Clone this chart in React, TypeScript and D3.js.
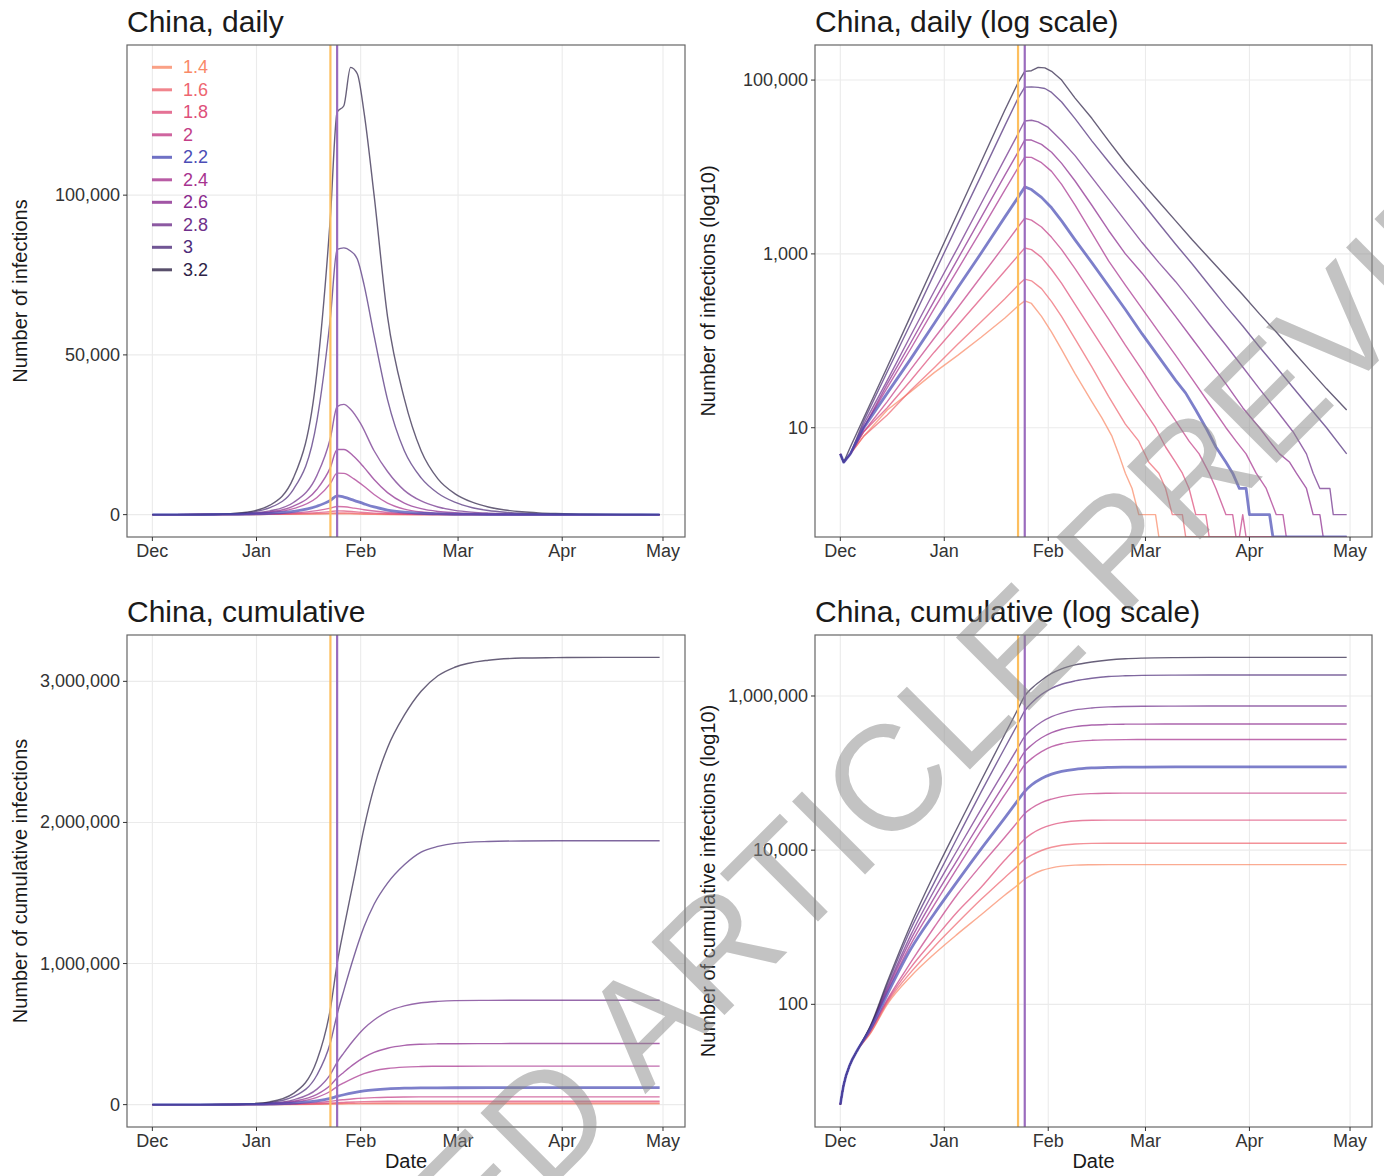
import React from "react";
import * as d3 from "d3";

// ---------------- DATA ----------------
const R_LABELS = ["1.4", "1.6", "1.8", "2", "2.2", "2.4", "2.6", "2.8", "3", "3.2"];
const R_COLORS = ["#F98A68", "#EE6670", "#DE4F7A", "#C33E87", "#4B4DB6", "#A7338F", "#8A2A8E", "#6F2F8B", "#4E2C7A", "#2E2346"];
const HIGHLIGHT = "2.2";

// day index counted from 2019-12-01
const MONTH_TICKS = ["2019-12-01", "2020-01-01", "2020-02-01", "2020-03-01", "2020-04-01", "2020-05-01"];
const EVENT_DATES = ["2020-01-23", "2020-01-25"];
const EVENT_COLORS = ["#FDBF5F", "#9A6BBE"];

// daily infections: [day, count]
const daily_1_4 = [[0,5],[1,4],[3,5],[7,8],[14,16],[21,26],[28,43],[35,68],[42,110],[49,182],[53,251],[55,288],[57,269],[60,191],[63,126],[66,79],[70,42],[75,20],[78,13],[81,8],[83,5],[85,3],[87,2],[89,1],[94,1],[95,0],[151,0]];
const daily_1_6 = [[0,5],[1,4],[3,5],[7,8],[14,14],[21,27],[28,49],[35,91],[42,166],[49,302],[53,437],[55,513],[57,490],[60,398],[63,282],[66,190],[70,105],[75,50],[80,23],[85,11],[89,7],[92,4],[95,3],[97,2],[99,1],[102,1],[103,0],[151,0]];
const daily_1_8 = [[0,5],[1,4],[3,5],[7,9],[14,17],[21,35],[28,74],[35,151],[42,309],[49,631],[53,955],[55,1170],[57,1120],[60,912],[63,661],[66,457],[70,263],[75,132],[80,66],[85,33],[90,17],[94,10],[97,6],[100,4],[102,3],[104,2],[106,1],[109,1],[110,0],[151,0]];
const daily_2_0 = [[0,5],[1,4],[3,5],[7,9],[14,20],[21,47],[28,107],[35,240],[42,550],[49,1260],[53,2040],[55,2570],[57,2450],[60,2040],[63,1550],[66,1120],[70,676],[75,347],[80,178],[85,89],[90,46],[95,23],[100,12],[104,7],[107,5],[110,3],[112,2],[115,1],[117,1],[118,0],[119,0],[120,1],[121,0],[151,0]];
const daily_2_2 = [[0,5],[1,4],[3,5],[7,10],[14,25],[21,62],[28,158],[35,407],[42,1023],[49,2630],[53,4470],[55,5900],[57,5500],[60,4470],[63,3390],[66,2400],[70,1450],[75,794],[80,427],[85,229],[90,120],[95,65],[100,35],[103,25],[106,16],[109,10],[112,6],[115,4],[117,3],[119,2],[121,2],[122,1],[128,1],[129,0],[151,0]];
const daily_2_4 = [[0,5],[1,4],[3,5],[7,10],[14,29],[21,81],[28,234],[35,661],[42,1862],[49,5370],[53,9770],[55,13000],[57,12900],[60,11200],[63,8900],[66,6300],[70,3630],[75,1740],[80,830],[85,437],[90,234],[95,126],[100,68],[105,36],[110,19],[115,10],[118,7],[121,5],[124,3],[127,2],[130,1],[132,1],[133,0],[151,0]];
const daily_2_6 = [[0,5],[1,4],[3,5],[7,10],[14,32],[21,95],[28,288],[35,871],[42,2630],[49,7943],[53,14800],[55,20400],[57,20400],[60,18200],[63,14800],[66,11000],[70,6900],[75,3630],[80,1860],[85,1000],[90,600],[95,339],[100,190],[105,105],[110,58],[115,32],[120,17],[125,10],[128,7],[131,5],[134,4],[136,3],[139,2],[141,1],[143,1],[144,0],[151,0]];
const daily_2_8 = [[0,5],[1,4],[3,5],[7,11],[14,35],[21,115],[28,372],[35,1175],[42,3802],[49,12300],[53,24000],[55,33800],[57,34500],[59,33000],[62,28500],[66,20000],[70,13500],[75,7600],[80,4270],[85,2400],[90,1350],[95,794],[100,479],[105,275],[110,155],[115,89],[120,50],[125,28],[130,16],[135,9],[139,5],[141,3],[143,2],[146,2],[147,1],[151,1]];
const daily_3_0 = [[0,5],[1,4],[3,5],[7,12],[14,44],[21,158],[28,589],[35,2188],[42,7943],[49,29500],[53,61700],[55,83000],[57,83500],[59,82500],[61,80000],[63,72000],[66,56000],[70,36000],[75,20000],[80,11500],[85,6700],[90,3900],[95,2240],[100,1290],[105,760],[110,436],[115,251],[120,148],[125,85],[130,50],[135,29],[140,17],[145,10],[151,5]];
const daily_3_2 = [[0,5],[1,4],[3,6],[7,13],[14,50],[21,195],[28,759],[35,2950],[42,11500],[49,44700],[53,93300],[55,126000],[57,128000],[59,140000],[61,138000],[63,126000],[66,100000],[70,62000],[75,36300],[80,20000],[85,11200],[90,6600],[95,3980],[100,2400],[105,1445],[110,891],[115,550],[120,339],[125,204],[130,126],[135,76],[140,46],[145,28],[151,16]];

// cumulative infections on a shared day grid
const CUM_DAYS = [0,1,3,5,9,14,21,28,35,42,49,53,55,57,60,63,66,70,75,80,85,90,100,110,120,135,151];
const cum_1_4 = [5,9,17,25,42,100,230,450,820,1450,2600,3550,4200,4750,5450,5900,6200,6400,6470,6500,6500,6500,6500,6500,6500,6500,6500];
const cum_1_6 = [5,9,17,25,43,105,260,560,1150,2300,4400,6300,7600,8600,9900,10900,11600,12000,12250,12300,12300,12300,12300,12300,12300,12300,12300];
const cum_1_8 = [5,9,17,25,45,110,300,700,1600,3300,7400,11300,14000,16300,19200,21300,22800,23900,24400,24500,24500,24500,24500,24500,24500,24500,24500];
const cum_2_0 = [5,9,17,25,46,115,350,1000,2700,6400,14600,23600,30000,35000,41500,46000,49500,52500,54200,54800,55000,55000,55000,55000,55000,55000,55000];
const cum_2_2 = [5,9,17,25,48,135,520,1500,4000,10400,26000,44500,58000,70000,85000,97000,105000,112000,116500,118500,119300,119700,120000,120000,120000,120000,120000];
const cum_2_4 = [5,9,17,25,49,145,600,1950,6000,18000,52000,95000,128000,154000,190000,220000,240000,256000,266000,270000,272000,272500,273000,273000,273000,273000,273000];
const cum_2_6 = [5,9,17,25,50,155,690,2400,7600,24000,73000,138000,190000,230000,287000,335000,370000,400000,420000,428000,431000,432000,432500,433000,433000,433000,433000];
const cum_2_8 = [5,9,17,25,51,165,790,3000,10200,34000,110000,215000,300000,367000,460000,540000,600000,660000,700000,722000,732000,737000,739000,740000,740000,740000,740000];
const cum_3_0 = [5,9,17,25,52,180,940,3800,14800,57000,210000,440000,640000,810000,1050000,1260000,1420000,1570000,1700000,1790000,1830000,1852000,1865000,1869000,1870000,1870000,1870000];
const cum_3_2 = [5,9,17,25,53,195,1080,4900,20000,80000,314000,680000,1000000,1250000,1600000,1960000,2250000,2530000,2760000,2930000,3040000,3100000,3150000,3165000,3168000,3170000,3170000];

const DAILY_SERIES = [daily_1_4, daily_1_6, daily_1_8, daily_2_0, daily_2_2, daily_2_4, daily_2_6, daily_2_8, daily_3_0, daily_3_2];
const CUM_SERIES = [cum_1_4, cum_1_6, cum_1_8, cum_2_0, cum_2_2, cum_2_4, cum_2_6, cum_2_8, cum_3_0, cum_3_2];

const DAILY_LIN_TICKS = [0, 50000, 100000];
const DAILY_LOG_TICKS = [10, 1000, 100000];
const CUM_LIN_TICKS = [0, 1000000, 2000000, 3000000];
const CUM_LOG_TICKS = [100, 10000, 1000000];

// ---------------- LAYOUT ----------------
const W = 1384;
const H = 1176;
const FONT = "'Liberation Sans', Arial, Helvetica, sans-serif";
const DAY_MS = 86400000;
const START = Date.UTC(2019, 11, 1);
const dayToDate = (d: number) => new Date(START + d * DAY_MS);

type Box = { x0: number; x1: number; y0: number; y1: number };
type Pt = [number, number];

const toPoints = (arr: number[][]): Pt[] => arr.map((p) => [p[0], p[1]] as Pt);
const cumPoints = (vals: number[]): Pt[] => vals.map((v, i) => [CUM_DAYS[i], v] as Pt);

function Panel(props: {
  box: Box;
  title: string;
  yTitle: string;
  xTitle?: string;
  log: boolean;
  series: Pt[][];
  yTicks: number[];
  legend?: boolean;
  id: string;
}) {
  const { box, title, yTitle, xTitle, log, series, yTicks, legend, id } = props;
  const allDays = series.flatMap((s) => s.map((p) => p[0]));
  const dMin = d3.min(allDays) as number;
  const dMax = d3.max(allDays) as number;
  const dPad = (dMax - dMin) * 0.05;
  const x = d3.scaleUtc().domain([dayToDate(dMin - dPad), dayToDate(dMax + dPad)]).range([box.x0, box.x1]);

  const vals = series.flatMap((s) => s.map((p) => p[1]));
  let y: any;
  if (log) {
    const pos = vals.filter((v) => v > 0);
    const lo = Math.log10(d3.min(pos) as number);
    const hi = Math.log10(d3.max(pos) as number);
    const pad = (hi - lo) * 0.05;
    y = d3.scaleLog().domain([Math.pow(10, lo - pad), Math.pow(10, hi + pad)]).range([box.y1, box.y0]);
  } else {
    const lo = Math.min(0, d3.min(vals) as number);
    const hi = d3.max(vals) as number;
    const pad = (hi - lo) * 0.05;
    y = d3.scaleLinear().domain([lo - pad, hi + pad]).range([box.y1, box.y0]);
  }
  const yPos = (v: number) => (log && v <= 0 ? box.y1 : y(v));

  const line = d3
    .line<Pt>()
    .x((p) => x(dayToDate(p[0])))
    .y((p) => yPos(p[1]))
    .curve(log && !id.startsWith("cum") ? d3.curveLinear : d3.curveMonotoneX);

  const order = R_LABELS.map((_, i) => i).filter((i) => R_LABELS[i] !== HIGHLIGHT);
  order.push(R_LABELS.indexOf(HIGHLIGHT));

  const monthDates = MONTH_TICKS.map((s) => new Date(s + "T00:00:00Z"));
  const fmtMonth = d3.utcFormat("%b");
  const fmtNum = d3.format(",");
  const cx = (box.x0 + box.x1) / 2;
  const cy = (box.y0 + box.y1) / 2;

  return (
    <g>
      <defs>
        <clipPath id={`clip-${id}`}>
          <rect x={box.x0} y={box.y0} width={box.x1 - box.x0} height={box.y1 - box.y0} />
        </clipPath>
      </defs>
      <rect x={box.x0} y={box.y0} width={box.x1 - box.x0} height={box.y1 - box.y0} fill="#fff" />
      {monthDates.map((d, i) => (
        <line key={"gx" + i} x1={x(d)} x2={x(d)} y1={box.y0} y2={box.y1} stroke="#EBEBEB" strokeWidth={1.1} />
      ))}
      {yTicks.map((t, i) => (
        <line key={"gy" + i} x1={box.x0} x2={box.x1} y1={y(t)} y2={y(t)} stroke="#EBEBEB" strokeWidth={1.1} />
      ))}
      <g clipPath={`url(#clip-${id})`}>
        {order.map((i) => (
          <path
            key={"s" + i}
            d={line(series[i]) || ""}
            fill="none"
            stroke={R_COLORS[i]}
            strokeOpacity={0.72}
            strokeWidth={R_LABELS[i] === HIGHLIGHT ? 2.8 : 1.4}
            strokeLinejoin="round"
          />
        ))}
        {EVENT_DATES.map((s, i) => {
          const xx = x(new Date(s + "T00:00:00Z"));
          return <line key={"ev" + i} x1={xx} x2={xx} y1={box.y0} y2={box.y1} stroke={EVENT_COLORS[i]} strokeWidth={2.2} />;
        })}
      </g>
      <rect x={box.x0} y={box.y0} width={box.x1 - box.x0} height={box.y1 - box.y0} fill="none" stroke="#666" strokeWidth={1.2} />
      {monthDates.map((d, i) => (
        <g key={"xt" + i}>
          <line x1={x(d)} x2={x(d)} y1={box.y1} y2={box.y1 + 4} stroke="#333" strokeWidth={1} />
          <text x={x(d)} y={box.y1 + 20} textAnchor="middle" fontSize={18} fill="#333">
            {fmtMonth(d)}
          </text>
        </g>
      ))}
      {yTicks.map((t, i) => (
        <g key={"yt" + i}>
          <line x1={box.x0 - 4} x2={box.x0} y1={y(t)} y2={y(t)} stroke="#333" strokeWidth={1} />
          <text x={box.x0 - 7} y={y(t)} textAnchor="end" dominantBaseline="central" fontSize={18} fill="#333">
            {fmtNum(t)}
          </text>
        </g>
      ))}
      <text x={box.x0} y={box.y0 - 13} fontSize={30} fill="#1a1a1a">
        {title}
      </text>
      <text transform={`translate(${box.x0 - 100},${cy}) rotate(-90)`} textAnchor="middle" fontSize={20} fill="#1a1a1a">
        {yTitle}
      </text>
      {xTitle && (
        <text x={cx} y={box.y1 + 41} textAnchor="middle" fontSize={20} fill="#1a1a1a">
          {xTitle}
        </text>
      )}
      {legend &&
        R_LABELS.map((lab, i) => {
          const ly = box.y0 + 22.3 + i * 22.5;
          return (
            <g key={"lg" + i}>
              <line x1={box.x0 + 25} x2={box.x0 + 45} y1={ly} y2={ly} stroke={R_COLORS[i]} strokeOpacity={0.8} strokeWidth={3} />
              <text x={box.x0 + 56} y={ly} dominantBaseline="central" fontSize={18} fill={R_COLORS[i]}>
                {lab}
              </text>
            </g>
          );
        })}
    </g>
  );
}

export default function App() {
  const daily = DAILY_SERIES.map(toPoints);
  const cum = CUM_SERIES.map(cumPoints);
  const boxes: Box[] = [
    { x0: 127, x1: 685, y0: 45, y1: 537 },
    { x0: 815, x1: 1372, y0: 45, y1: 537 },
    { x0: 127, x1: 685, y0: 635, y1: 1127 },
    { x0: 815, x1: 1372, y0: 635, y1: 1127 },
  ];
  return (
    <svg
      width={W}
      height={H}
      viewBox={`0 0 ${W} ${H}`}
      style={{ position: "absolute", left: 0, top: 0, background: "#fff" }}
      fontFamily={FONT}
    >
      <rect width={W} height={H} fill="#fff" />
      <Panel id="dlin" box={boxes[0]} title="China, daily" yTitle="Number of infections" log={false} series={daily} yTicks={DAILY_LIN_TICKS} legend />
      <Panel id="dlog" box={boxes[1]} title="China, daily (log scale)" yTitle="Number of infections (log10)" log={true} series={daily} yTicks={DAILY_LOG_TICKS} />
      <Panel id="cumlin" box={boxes[2]} title="China, cumulative" yTitle="Number of cumulative infections" xTitle="Date" log={false} series={cum} yTicks={CUM_LIN_TICKS} />
      <Panel id="cumlog" box={boxes[3]} title="China, cumulative (log scale)" yTitle="Number of cumulative infections (log10)" xTitle="Date" log={true} series={cum} yTicks={CUM_LOG_TICKS} />
      <text
        transform="translate(790,876) rotate(-45)"
        textAnchor="middle"
        dominantBaseline="central"
        fontSize={150}
        fill="#888"
        fillOpacity={0.5}
      >
        ACCEPTED ARTICLE PREVIEW
      </text>
    </svg>
  );
}
